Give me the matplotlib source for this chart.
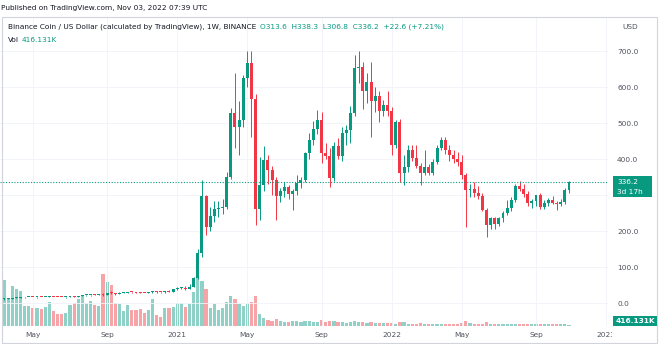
import matplotlib
matplotlib.use('Agg')
import matplotlib.pyplot as plt
import matplotlib.dates as mdates
from matplotlib.patches import Rectangle
import pandas as pd

# weekly BNB/USD candles, first week starts 2020-03-16
week_start = '2020-03-16'

opens = [11.0, 12.0, 12.5, 14.3, 15.2, 15.4, 16.5, 16.9, 16.5, 16.9, 16.7, 17.2, 17.8, 16.8,
         16.6, 15.6, 16.0, 17.7, 17.6, 19.4, 21.5, 21.8, 22.5, 22.0, 23.3, 21.5, 28.0, 27.0,
         26.0, 28.0, 28.8, 30.5, 29.5, 28.0, 27.5, 27.0, 30.0, 31.0, 30.0, 29.5, 32.0, 31.5,
         38.5, 42.0, 43.0, 40.0, 45.5, 69.0, 138.0, 297.0, 212.0, 242.0, 262.0, 265.0, 268.0, 351.0,
         527.0, 490.0, 508.0, 625.0, 666.0, 566.0, 260.0, 328.0, 397.0, 369.0, 342.0, 296.0, 310.0,
         322.0, 304.0, 310.0, 334.0, 342.0, 416.0, 453.0, 483.0, 508.0, 417.0, 408.0, 346.0, 435.0,
         407.0, 473.0, 480.0, 529.0, 652.0, 655.0, 590.0, 615.0, 560.0, 576.0, 532.0, 550.0,
         532.0, 439.0, 504.0, 361.0, 378.0, 425.0, 402.0, 381.0, 362.0, 377.0, 362.0, 392.0, 431.0,
         452.0, 425.0, 411.0, 399.0, 392.0, 355.0, 314.0, 318.0, 305.0, 297.0, 258.0, 217.0, 235.0,
         220.0, 235.0, 249.0, 263.0, 286.0, 325.0, 318.0, 304.0, 277.0, 282.0, 300.0, 268.0, 277.0,
         286.0, 279.0, 275.0, 280.0, 313.6]
highs = [13.3, 13.2, 14.5, 15.5, 15.7, 16.8, 18.0, 18.0, 17.4, 17.5, 17.5, 18.5, 18.0, 17.6,
         17.2, 16.3, 18.1, 19.0, 19.7, 23.0, 22.5, 23.0, 24.0, 24.0, 27.0, 29.0, 33.0, 28.5,
         29.5, 29.5, 31.5, 31.5, 31.5, 29.5, 29.0, 31.0, 33.0, 32.0, 30.5, 33.5, 36.0, 39.0,
         44.0, 45.0, 46.0, 52.0, 72.0, 150.0, 341.0, 300.0, 267.0, 283.0, 283.0, 290.0, 365.0, 541.0,
         638.0, 560.0, 632.0, 700.0, 700.0, 580.0, 406.0, 436.0, 410.0, 380.0, 350.0, 320.0, 335.0,
         328.0, 318.0, 355.0, 350.0, 420.0, 472.0, 505.0, 535.0, 530.0, 445.0, 430.0, 448.0, 457.0,
         488.0, 495.0, 547.0, 689.0, 699.0, 670.0, 640.0, 670.0, 600.0, 590.0, 565.0, 588.0,
         545.0, 508.0, 510.0, 410.0, 440.0, 440.0, 440.0, 390.0, 425.0, 385.0, 400.0, 440.0, 462.0,
         460.0, 440.0, 425.0, 420.0, 410.0, 360.0, 330.0, 335.0, 325.0, 305.0, 265.0, 240.0, 240.0,
         240.0, 255.0, 285.0, 295.0, 330.0, 340.0, 330.0, 310.0, 290.0, 300.0, 305.0, 285.0, 292.0,
         297.0, 282.0, 288.0, 320.0, 338.3]
lows = [9.5, 10.8, 12.0, 13.8, 14.5, 14.9, 16.0, 15.5, 14.9, 16.0, 16.0, 16.8, 16.2, 16.5,
        15.4, 15.2, 15.9, 17.2, 17.5, 18.8, 20.0, 20.5, 21.5, 21.5, 20.0, 21.0, 26.0, 23.0,
        25.5, 27.5, 28.0, 28.5, 27.0, 26.5, 26.8, 26.8, 26.5, 28.5, 27.5, 29.0, 30.5, 31.0,
        35.5, 38.5, 36.0, 38.0, 44.5, 66.0, 128.0, 189.0, 200.0, 225.0, 240.0, 248.0, 262.0, 345.0,
        430.0, 410.0, 490.0, 600.0, 460.0, 217.0, 230.0, 310.0, 330.0, 300.0, 231.0, 280.0, 295.0,
        290.0, 258.0, 300.0, 320.0, 335.0, 400.0, 440.0, 470.0, 390.0, 400.0, 322.0, 340.0, 400.0,
        395.0, 440.0, 445.0, 520.0, 610.0, 540.0, 555.0, 462.0, 530.0, 504.0, 520.0, 520.0,
        412.0, 430.0, 335.0, 329.0, 365.0, 395.0, 375.0, 328.0, 355.0, 355.0, 355.0, 385.0, 425.0,
        415.0, 395.0, 390.0, 380.0, 345.0, 212.0, 295.0, 295.0, 290.0, 255.0, 184.0, 205.0, 205.0,
        215.0, 225.0, 245.0, 255.0, 280.0, 310.0, 295.0, 270.0, 265.0, 270.0, 262.0, 262.0, 270.0,
        275.0, 258.0, 270.0, 276.0, 306.8]
closes = [12.0, 12.5, 14.3, 15.2, 15.4, 16.5, 16.9, 16.5, 16.9, 16.7, 17.2, 17.8, 16.8, 16.6,
          15.6, 16.0, 17.7, 17.6, 19.4, 21.5, 21.8, 22.5, 22.0, 23.3, 21.5, 28.0, 27.0, 26.0,
          28.0, 28.8, 30.5, 29.5, 28.0, 27.5, 27.0, 30.0, 31.0, 30.0, 29.5, 32.0, 31.5, 38.5,
          42.0, 43.0, 40.0, 45.5, 69.0, 138.0, 297.0, 212.0, 242.0, 262.0, 265.0, 268.0, 351.0, 527.0,
          490.0, 508.0, 625.0, 666.0, 566.0, 260.0, 328.0, 397.0, 369.0, 342.0, 296.0, 310.0, 322.0,
          304.0, 310.0, 334.0, 342.0, 416.0, 453.0, 483.0, 508.0, 417.0, 408.0, 346.0, 435.0, 407.0,
          473.0, 480.0, 529.0, 652.0, 655.0, 590.0, 615.0, 560.0, 576.0, 532.0, 550.0, 532.0,
          439.0, 504.0, 361.0, 378.0, 425.0, 402.0, 381.0, 362.0, 377.0, 362.0, 392.0, 431.0, 452.0,
          425.0, 411.0, 399.0, 392.0, 355.0, 314.0, 318.0, 305.0, 297.0, 258.0, 217.0, 235.0, 220.0,
          235.0, 249.0, 263.0, 286.0, 325.0, 318.0, 304.0, 277.0, 282.0, 300.0, 268.0, 277.0, 286.0,
          279.0, 275.0, 280.0, 313.6, 336.2]
# weekly volume, millions of BNB
volumes = [12.9, 7.8, 11.2, 10.4, 9.8, 5.6, 5.6, 5.0, 5.0, 4.8, 5.3, 6.7, 4.2, 3.4,
           3.4, 3.6, 5.9, 6.4, 7.6, 8.7, 6.4, 7.0, 5.9, 5.6, 14.6, 12.3, 11.5, 6.4,
           6.2, 4.2, 5.9, 4.5, 4.5, 4.8, 3.6, 4.5, 7.6, 3.1, 2.5, 5.0, 5.0, 5.3,
           6.4, 6.4, 5.3, 6.2, 9.5, 13.7, 12.6, 10.4, 5.0, 6.2, 4.5, 5.0, 6.7, 8.4,
           7.6, 6.2, 5.6, 6.2, 6.7, 8.4, 3.4, 2.2, 1.7, 1.4, 2.0, 1.4, 1.1,
           1.1, 1.4, 1.4, 1.1, 1.4, 1.4, 1.1, 1.1, 1.7, 1.1, 1.4, 1.4, 1.1,
           1.1, 0.84, 1.1, 1.4, 1.1, 1.1, 0.84, 1.1, 0.84, 0.84, 0.84, 0.84,
           0.84, 0.56, 1.1, 1.1, 0.56, 0.56, 0.56, 0.84, 0.56, 0.56, 0.56, 0.56, 0.56,
           0.56, 0.56, 0.56, 0.56, 0.84, 1.4, 0.84, 0.56, 0.56, 0.56, 1.1, 0.56, 0.56,
           0.56, 0.56, 0.56, 0.56, 0.56, 0.56, 0.56, 0.56, 0.42, 0.42, 0.56, 0.42, 0.42,
           0.42, 0.42, 0.42, 0.42, 0.416]

price_ticks = [0, 100, 200, 300, 400, 500, 600, 700]
price_labels = ['0.0', '100.0', '200.0', '', '400.0', '500.0', '600.0', '700.0']
# labels sit on the first weekly bar of the month
time_ticks = ['2020-05-04', '2020-09-07', '2021-01-04', '2021-05-03', '2021-09-06',
              '2022-01-03', '2022-05-02', '2022-09-05', '2023-01-02']
time_labels = ['May', 'Sep', '2021', 'May', 'Sep', '2022', 'May', 'Sep', '2023']

UP = '#089981'
DOWN = '#f23645'
UP_VOL = '#8fd1c6'
DOWN_VOL = '#f7a4a8'
TEXT = '#131722'
AXIS_TEXT = '#50535e'
GRID = '#f0f3fa'

W, H = 660, 344


def fx(px):
    return px / W


def fy(py):
    return 1 - py / H


fig = plt.figure(figsize=(W / 100, H / 100), dpi=100)
fig.patch.set_facecolor('white')

rect = [0, fy(326), fx(608), (326 - 17) / H]
ax_vol = fig.add_axes(rect)
ax = fig.add_axes(rect)
ax.set_zorder(2)
ax.patch.set_visible(False)

dates = pd.date_range(week_start, periods=len(closes), freq='7D')
x = mdates.date2num(dates)
up = [c >= o for o, c in zip(opens, closes)]
colors = [UP if u else DOWN for u in up]
vol_colors = [UP_VOL if u else DOWN_VOL for u in up]

# volume pane at the bottom
ax_vol.bar(x, volumes, width=5.4, color=vol_colors, linewidth=0)
ax_vol.set_ylim(0, 86.5)

# candles
ax.vlines(x, lows, highs, colors=colors, linewidth=0.7)
bottoms = [min(o, c) for o, c in zip(opens, closes)]
heights = [max(abs(c - o), 2.5) for o, c in zip(opens, closes)]
ax.bar(x, heights, bottom=bottoms, width=5.0, color=colors, linewidth=0)

ax.axhline(closes[-1], color=UP, linewidth=0.8, linestyle=(0, (1, 1.5)))

xmin, xmax = x[0] - 6.8, x[-1] + 66.2
for a in (ax, ax_vol):
    a.set_xlim(xmin, xmax)
    for s in a.spines.values():
        s.set_visible(False)
ax_vol.set_xticks([])
ax_vol.set_yticks([])

ax.set_ylim((303 - 326) / 0.36, (303 - 17) / 0.36)
ax.yaxis.tick_right()
ax.set_yticks(price_ticks)
ax.set_yticklabels(price_labels)
ax.set_xticks(mdates.date2num(pd.to_datetime(time_ticks)))
ax.set_xticklabels(time_labels)
ax.tick_params(axis='y', length=0, pad=6.5, labelsize=5.3, labelcolor=AXIS_TEXT)
ax.tick_params(axis='x', length=0, pad=4.0, labelsize=5.3, labelcolor=AXIS_TEXT)
ax.grid(True, color=GRID, linewidth=0.6)
ax.set_axisbelow(True)

# price pane hides the last time label
fig.patches.append(Rectangle((fx(612), 0), fx(48), fy(328), transform=fig.transFigure,
                             facecolor='white', edgecolor='none', zorder=5))

# outer frame
fig.patches.append(Rectangle((fx(2), fy(343)), fx(655), (343 - 17) / H, transform=fig.transFigure,
                             facecolor='none', edgecolor='#d1d4dc', linewidth=0.8, zorder=6))

# last price and volume labels
fig.patches.append(Rectangle((fx(613), fy(197)), fx(39), 21 / H, transform=fig.transFigure,
                             facecolor=UP, edgecolor='none', zorder=7))
fig.text(fx(617), fy(181.5), '336.2', color='white', fontsize=5.3, va='center', ha='left', zorder=8)
fig.text(fx(617), fy(191.5), '3d 17h', color='white', fontsize=5.3, va='center', ha='left', zorder=8)
fig.patches.append(Rectangle((fx(613), fy(326)), fx(44), 10 / H, transform=fig.transFigure,
                             facecolor=UP, edgecolor='none', zorder=7))
fig.text(fx(635), fy(321), '416.131K', color='white', fontsize=5.3, va='center', ha='center',
         zorder=8, fontweight='bold')

fig.text(fx(622), fy(27), 'USD', color=AXIS_TEXT, fontsize=5.3, va='center', ha='left')

# header and legend
fig.text(fx(1), fy(8), 'Published on TradingView.com, Nov 03, 2022 07:39 UTC', color=TEXT,
         fontsize=5.3, va='center', ha='left')
fig.text(fx(8), fy(27), 'Binance Coin / US Dollar (calculated by TradingView), 1W, BINANCE',
         color=TEXT, fontsize=5.3, va='center', ha='left')
fig.text(fx(260), fy(27), 'O313.6  H338.3  L306.8  C336.2  +22.6 (+7.21%)', color=UP,
         fontsize=5.3, va='center', ha='left')
fig.text(fx(8), fy(40), 'Vol', color=TEXT, fontsize=5.3, va='center', ha='left')
fig.text(fx(22), fy(40), '416.131K', color=UP, fontsize=5.3, va='center', ha='left')

fig.savefig('out.png', dpi=100)
